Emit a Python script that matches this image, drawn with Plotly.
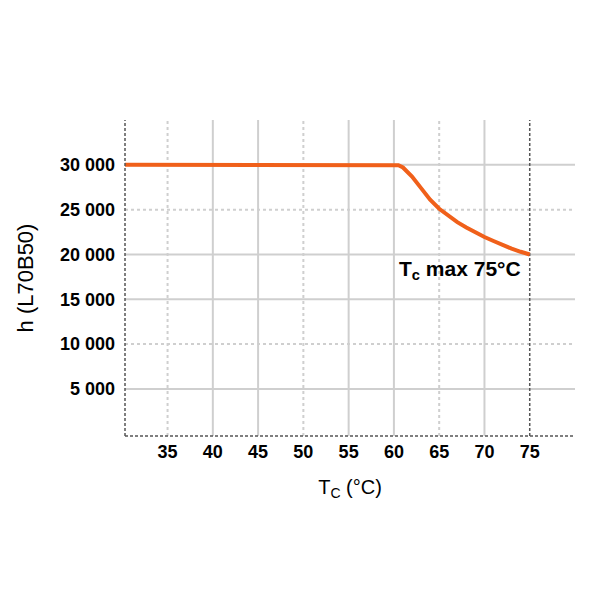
import plotly.graph_objects as go

tc = [30.3, 60, 60.5, 61, 62, 63, 64, 65, 66, 67, 68, 69, 70, 71, 72, 73, 74, 75]
hours = [30000, 30000, 29950, 29700, 28700, 27400, 26100, 25100, 24300, 23600, 23000,
         22450, 21950, 21500, 21050, 20650, 20300, 20000]

x_ticks = [35, 40, 45, 50, 55, 60, 65, 70, 75]
x_tick_labels = ["35", "40", "45", "50", "55", "60", "65", "70", "75"]
y_ticks = [5000, 10000, 15000, 20000, 25000, 30000]
y_tick_labels = ["5 000", "10 000", "15 000", "20 000", "25 000", "30 000"]
x_solid_grid = [40, 45, 55, 60, 70]
x_dotted_grid = [35, 50, 65]
y_solid_grid = [5000, 15000, 20000, 30000]
y_dotted_grid = [10000, 25000]
tc_max = 75
label_text = "T<sub>c</sub> max 75°C"

x_range = [30.3, 80]
y_range = [-250, 35000]

fig = go.Figure()

shapes = []
for v in x_solid_grid:
    shapes.append(dict(type="line", xref="x", yref="paper", x0=v, x1=v, y0=0, y1=1,
                       line=dict(color="#cfcfcf", width=2), layer="below"))
for v in x_dotted_grid:
    shapes.append(dict(type="line", xref="x", yref="paper", x0=v, x1=v, y0=0, y1=1,
                       line=dict(color="#cfcfcf", width=2, dash="dot"), layer="below"))
for v in y_solid_grid:
    shapes.append(dict(type="line", xref="paper", yref="y", x0=0, x1=1, y0=v, y1=v,
                       line=dict(color="#cfcfcf", width=2), layer="below"))
for v in y_dotted_grid:
    shapes.append(dict(type="line", xref="paper", yref="y", x0=0, x1=1, y0=v, y1=v,
                       line=dict(color="#cfcfcf", width=2, dash="dot"), layer="below"))
shapes.append(dict(type="line", xref="x", yref="paper", x0=tc_max, x1=tc_max, y0=0, y1=1,
                   line=dict(color="#555555", width=1.5, dash="3px,2px"), layer="below"))
shapes.append(dict(type="line", xref="paper", yref="paper", x0=0, x1=0, y0=0, y1=1,
                   line=dict(color="#555555", width=1.5, dash="3px,2px")))
shapes.append(dict(type="line", xref="paper", yref="paper", x0=0, x1=1, y0=0, y1=0,
                   line=dict(color="#555555", width=1.5, dash="3px,2px")))

fig.add_trace(go.Scatter(x=tc, y=hours, mode="lines",
                         line=dict(color="#f0601a", width=4),
                         hoverinfo="skip", showlegend=False))

fig.add_annotation(x=60.3, y=18300, xref="x", yref="y", text="<b>" + label_text + "</b>",
                   showarrow=False, xanchor="left", yanchor="middle",
                   font=dict(family="Liberation Sans", size=21, color="black"))

font = dict(family="Liberation Sans", size=18, color="black", weight="bold")

fig.update_layout(
    width=600, height=600,
    margin=dict(l=117, r=33, t=112, b=172, autoexpand=False),
    plot_bgcolor="white", paper_bgcolor="white",
    shapes=shapes,
    xaxis=dict(range=x_range, tickvals=x_ticks, ticktext=x_tick_labels, showgrid=False,
               zeroline=False, showline=False, ticks="", tickfont=font, automargin=False,
               ticklabelstandoff=3,
               title=dict(text="T<sub>C</sub> (°C)",
                          font=dict(family="Liberation Sans", size=20, color="black"), standoff=18)),
    yaxis=dict(range=y_range, tickvals=y_ticks, ticktext=y_tick_labels, showgrid=False,
               zeroline=False, showline=False, ticks="", tickfont=font, automargin=False,
               ticklabelstandoff=9,
               title=dict(text="h (L70B50)",
                          font=dict(family="Liberation Sans", size=22, color="black"), standoff=20)),
)

fig.write_html("out.html")
